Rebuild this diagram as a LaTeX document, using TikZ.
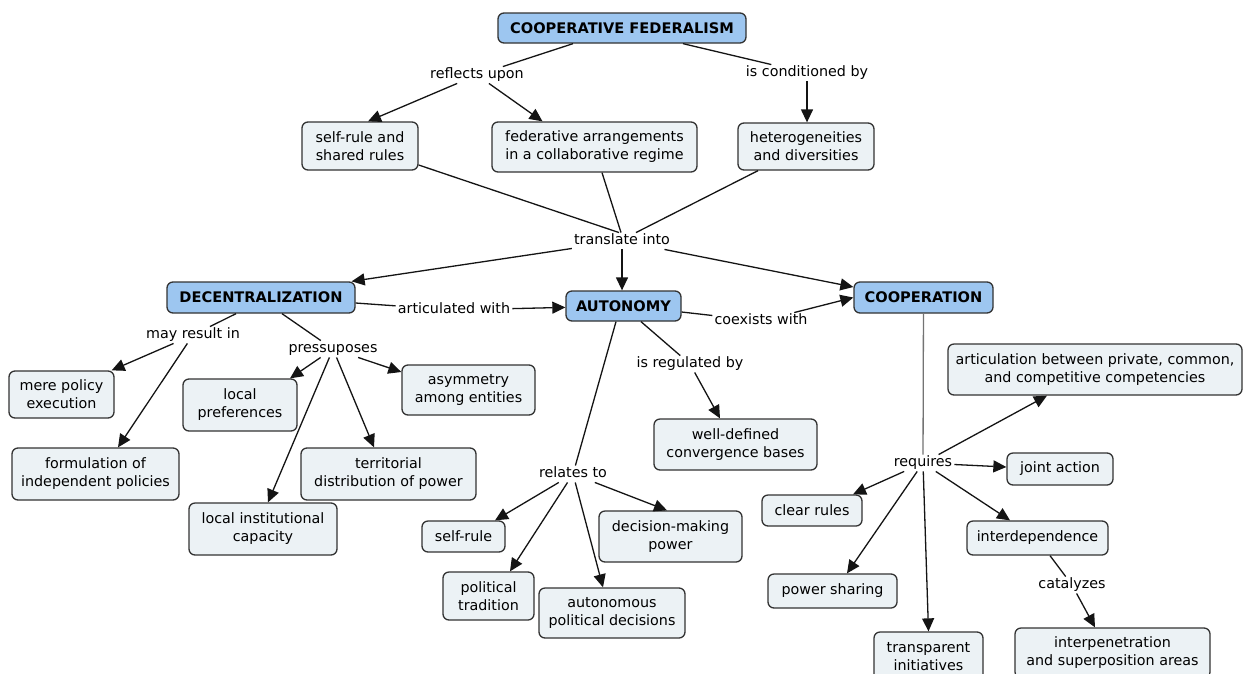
\documentclass[tikz,border=0pt]{standalone}
\usepackage{fontspec}
\setmainfont{DejaVu Sans}
\usetikzlibrary{arrows.meta,calc}
\definecolor{cblue}{RGB}{157,198,240}
\definecolor{cgrey}{RGB}{236,242,245}
\definecolor{cline}{RGB}{20,20,20}
\tikzset{
 concept/.style={draw=black!80, line width=1.3pt, rounded corners=6pt, fill=cgrey, align=center, inner xsep=4pt, inner ysep=2pt, font=\fontsize{14.3}{18}\selectfont},
 keyc/.style={concept, fill=cblue, font=\fontsize{14.6}{18}\selectfont\bfseries},
 lbl/.style={inner xsep=2pt, inner ysep=1.5pt, text height=10.5pt, text depth=3pt, font=\fontsize{14.3}{18}\selectfont},
 link/.style={draw=cline, line width=1.3pt},
 arr/.style={link, -{Triangle[length=13pt,width=12pt]}},
}
\begin{document}
\begin{tikzpicture}[x=1pt,y=-1pt]
\useasboundingbox (0,0) rectangle (1244,673);
\clip (0,0) rectangle (1244,673);
\fill[white] (0,0) rectangle (1244,673);
% concepts
\node[keyc, minimum width=248, minimum height=30] (cf) at (622,28) {COOPERATIVE FEDERALISM};
\node[concept, minimum width=116, minimum height=48] (ssr) at (360,146) {self-rule and\\shared rules};
\node[concept, minimum width=205, minimum height=50] (fed) at (594.5,147) {federative arrangements\\in a collaborative regime};
\node[concept, minimum width=136, minimum height=47] (het) at (806,146.5) {heterogeneities\\and diversities};
\node[keyc, minimum width=188, minimum height=31] (dec) at (261,297.5) {DECENTRALIZATION};
\node[keyc, minimum width=115, minimum height=30] (aut) at (623.5,306) {AUTONOMY};
\node[keyc, minimum width=139, minimum height=31] (coop) at (923.5,297.5) {COOPERATION};
\node[concept, minimum width=105, minimum height=47] (mere) at (61.5,394.5) {mere policy\\execution};
\node[concept, minimum width=114, minimum height=52] (lp) at (240,405) {local\\preferences};
\node[concept, minimum width=133, minimum height=50] (asym) at (468.5,390) {asymmetry\\among entities};
\node[concept, minimum width=167, minimum height=52] (form) at (95.5,474) {formulation of\\independent policies};
\node[concept, minimum width=175, minimum height=52] (terr) at (388.5,474) {territorial\\distribution of power};
\node[concept, minimum width=148, minimum height=52] (li) at (263,529) {local institutional\\capacity};
\node[concept, minimum width=163, minimum height=51] (well) at (735.5,444.5) {well-defined\\convergence bases};
\node[concept, minimum width=83, minimum height=31] (sr) at (463.5,536.5) {self-rule};
\node[concept, minimum width=143, minimum height=51] (dm) at (670.5,536.5) {decision-making\\power};
\node[concept, minimum width=91, minimum height=48] (pt) at (488.5,596) {political\\tradition};
\node[concept, minimum width=146, minimum height=50] (ap) at (612,613) {autonomous\\political decisions};
\node[concept, minimum width=294, minimum height=51] (art) at (1095,369.5) {articulation between private, common,\\and competitive competencies};
\node[concept, minimum width=106, minimum height=32] (ja) at (1060,469) {joint action};
\node[concept, minimum width=100, minimum height=31] (cr) at (812,510.5) {clear rules};
\node[concept, minimum width=141, minimum height=34] (id) at (1037.5,538) {interdependence};
\node[concept, minimum width=129, minimum height=34] (ps) at (832.5,591) {power sharing};
\node[concept, minimum width=109, minimum height=50] (tr) at (928.5,657) {transparent\\initiatives};
\node[concept, minimum width=195, minimum height=50] (ip) at (1112.5,653) {interpenetration\\and superposition areas};
% linking phrases
\node[lbl] (rl) at (477,75) {reflects upon};
\node[lbl] (cb) at (807,73) {is conditioned by};
\node[lbl] (ti) at (622,241) {translate into};
\node[lbl] (aw) at (454,310) {articulated with};
\node[lbl] (cw) at (761,321) {coexists with};
\node[lbl] (mr) at (193,335) {may result in};
\node[lbl] (pr) at (333,349) {pressuposes};
\node[lbl] (rb) at (690,364) {is regulated by};
\node[lbl] (rt) at (573,474) {relates to};
\node[lbl] (rq) at (923,463) {requires};
\node[lbl] (cat) at (1072,585) {catalyzes};
% connectors
\draw[link] ([xshift=-49pt]cf.south) -- (rl);
\draw[link] ([xshift=61pt]cf.south) -- (cb);
\draw[arr] (rl) -- ([xshift=8pt]ssr.north);
\draw[arr] (rl) -- ([xshift=-52pt]fed.north);
\draw[arr] (cb) -- ([xshift=1pt]het.north);
\draw[link] ([yshift=-19pt]ssr.east) -- ([xshift=-3pt]ti.north);
\draw[link] ([xshift=7.5pt]fed.south) -- ([xshift=-1pt]ti.north);
\draw[link] ([xshift=-48pt]het.south) -- ([xshift=14pt]ti.north);
\draw[arr] (ti) -- ([xshift=-4pt]dec.north east);
\draw[arr] (ti) -- ([xshift=-1.5pt]aut.north);
\draw[arr] (ti) -- ([yshift=10.5pt]coop.west);
\draw[link] ([yshift=-5.5pt]dec.east) -- (aw);
\draw[arr] (aw) -- (aut);
\draw[link] ([yshift=-6pt]aut.east) -- (cw);
\draw[arr] (cw) -- (coop.west);
\draw[link] ([xshift=-25pt]dec.south) -- (mr);
\draw[arr] (mr) -- ([xshift=-3pt]mere.north east);
\draw[arr] (mr) -- ([xshift=22.5pt]form.north);
\draw[link] ([xshift=21pt]dec.south) -- (pr);
\draw[arr] (pr) -- ([xshift=50pt]lp.north);
\draw[arr] (pr) -- ([yshift=18pt]asym.west);
\draw[arr] (pr) -- ([xshift=5pt]li.north);
\draw[arr] (pr) -- ([xshift=-14.5pt]terr.north);
\draw[link] ([xshift=17.5pt]aut.south) -- (rb);
\draw[arr] (rb) -- ([xshift=-15.5pt]well.north);
\draw[link] ([xshift=-7.5pt]aut.south) -- (rt);
\draw[arr] (rt) -- ([xshift=31.5pt]sr.north);
\draw[arr] (rt) -- ([xshift=21.5pt]pt.north);
\draw[arr] (rt) -- ([xshift=-9pt]ap.north);
\draw[arr] (rt) -- ([xshift=-3.5pt]dm.north);
\draw[link, draw=black!55] (coop) -- (rq);
\draw[arr] (rq) -- ([xshift=-48pt]art.south);
\draw[arr] (rq) -- ([yshift=2pt]ja.west);
\draw[arr] (rq) -- ([xshift=41pt]cr.north);
\draw[arr] (rq) -- ([xshift=14.5pt]ps.north);
\draw[arr] (rq) -- (tr.north);
\draw[arr] (rq) -- ([xshift=-27.5pt]id.north);
\draw[link] ([xshift=12.5pt]id.south) -- (cat);
\draw[arr] (cat) -- ([xshift=-17.5pt]ip.north);
\end{tikzpicture}
\end{document}
